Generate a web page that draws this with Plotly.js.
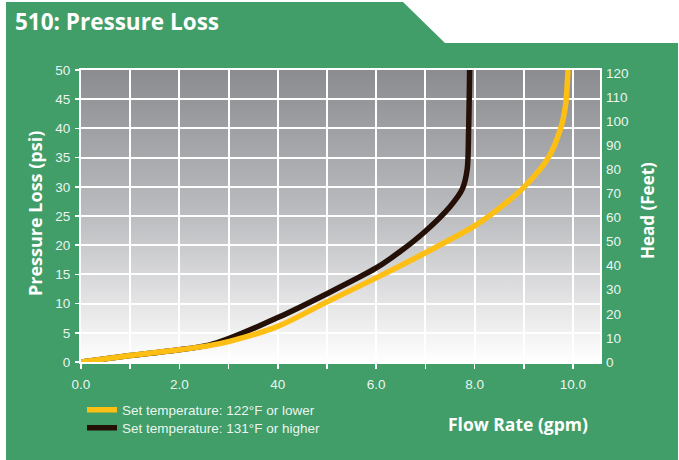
<!DOCTYPE html>
<html>
<head>
<meta charset="utf-8">
<script src="https://cdn.plot.ly/plotly-3.0.1.min.js"></script>
<style>html,body{margin:0;padding:0;background:#fff;}#chart{width:679px;height:460px;}</style>
</head>
<body>
<div id="chart"></div>
<script>
// ---- data ----
var seriesNames = ["Set temperature: 122°F or lower", "Set temperature: 131°F or higher"];
var lowFlow  = [0, 1, 2, 2.6, 3, 4, 5, 6, 7, 8, 8.5, 9, 9.5, 9.75, 9.85, 9.9];
var lowPsi   = [0, 1.1, 2.1, 2.8, 3.5, 6.1, 10.3, 14.4, 18.7, 23.3, 26.3, 29.9, 35.0, 40.0, 44.0, 50.0];
var highFlow = [0, 1, 2, 2.6, 3, 4, 5, 6, 6.5, 7, 7.5, 7.75, 7.85, 7.88, 7.9];
var highPsi  = [0, 1.1, 2.1, 2.9, 4.0, 7.6, 11.7, 16.1, 19.0, 22.4, 26.6, 29.6, 33.0, 40.0, 50.0];
var xTickVals = [0, 1, 2, 3, 4, 5, 6, 7, 8, 9, 10];
var xTickText = ["0.0", "", "2.0", "", "40", "", "6.0", "", "8.0", "", "10.0"];
var psiTicks  = [0, 5, 10, 15, 20, 25, 30, 35, 40, 45, 50];
var feetTicks = [0, 10, 20, 30, 40, 50, 60, 70, 80, 90, 100, 110, 120];

// ---- layout geometry (pixels) ----
var W = 679, H = 460, L = 81, R = 600, T = 70, B = 362;
function px(x) { return (x - L) / (R - L); }
function py(y) { return (B - y) / (B - T); }

var GREEN = "#419e69";
var YELLOW = "#fdbf14";
var DARK = "#241006";
var TICKC = "rgba(255,255,255,0.92)";
var FS = 13.5;

var path = "M" + px(6) + "," + py(2) + " L" + px(403) + "," + py(2) + " L" + px(445) + "," + py(43) +
  " L" + px(678) + "," + py(43) + " L" + px(678) + "," + py(460) + " L" + px(6) + "," + py(460) + " Z";

var svg = '<svg xmlns="http://www.w3.org/2000/svg" width="10" height="100" preserveAspectRatio="none">' +
  '<defs><linearGradient id="g" x1="0" y1="0" x2="0" y2="1">' +
  '<stop offset="0" stop-color="#8b8c90"/><stop offset="0.5" stop-color="#bcbdc0"/>' +
  '<stop offset="0.85" stop-color="#ebebec"/><stop offset="1" stop-color="#ffffff"/>' +
  '</linearGradient></defs><rect width="10" height="100" fill="url(#g)"/></svg>';
var gradURI = "data:image/svg+xml;charset=utf-8," + encodeURIComponent(svg);

var traces = [
  { x: highFlow, y: highPsi, name: seriesNames[1], type: "scatter", mode: "lines", legend: "legend2",
    line: { color: DARK, width: 5.5, shape: "spline", smoothing: 0.8 }, hoverinfo: "skip" },
  { x: lowFlow, y: lowPsi, name: seriesNames[0], type: "scatter", mode: "lines", legend: "legend",
    line: { color: YELLOW, width: 5.5, shape: "spline", smoothing: 0.8 }, hoverinfo: "skip" },
  { x: [null], y: [null], yaxis: "y2", showlegend: false, hoverinfo: "skip", type: "scatter" }
];

function legendAt(yc) {
  return { x: px(82), y: py(yc), xanchor: "left", yanchor: "middle",
    bgcolor: "rgba(0,0,0,0)", borderwidth: 0,
    font: { size: FS, color: TICKC, family: "Liberation Sans, Arial, sans-serif" },
    itemwidth: 30, tracegroupgap: 0 };
}

var xmax = 10.55;
var layout = {
  width: W, height: H,
  margin: { l: L, r: W - R, t: T, b: H - B, pad: 0 },
  paper_bgcolor: "#ffffff",
  plot_bgcolor: "rgba(0,0,0,0)",
  font: { family: "Liberation Sans, Arial, sans-serif", color: TICKC, size: FS },
  showlegend: true,
  legend: legendAt(410),
  legend2: legendAt(428),
  xaxis: { range: [0, xmax], tickmode: "array", tickvals: xTickVals, ticktext: xTickText,
    showgrid: true, gridcolor: "#ffffff", gridwidth: 2, zeroline: false,
    showline: true, linecolor: "#ffffff", linewidth: 2, mirror: true,
    ticks: "outside", ticklen: 5, tickwidth: 1.5, tickcolor: "#ffffff",
    tickfont: { size: FS, color: TICKC }, ticklabelstandoff: 4, fixedrange: true },
  yaxis: { range: [0, 50], tickmode: "array", tickvals: psiTicks,
    showgrid: true, gridcolor: "#ffffff", gridwidth: 2, zeroline: false,
    showline: true, linecolor: "#ffffff", linewidth: 2, mirror: true,
    ticks: "outside", ticklen: 4, tickwidth: 1.5, tickcolor: "#ffffff",
    tickfont: { size: FS, color: TICKC }, ticklabelstandoff: 2, fixedrange: true },
  yaxis2: { overlaying: "y", side: "right", range: [0, 121.2], tickmode: "array", tickvals: feetTicks,
    showgrid: false, zeroline: false, showline: false, ticks: "",
    tickfont: { size: FS, color: TICKC }, ticklabelstandoff: 5, fixedrange: true },
  shapes: [
    { type: "path", xref: "paper", yref: "paper", path: path, fillcolor: GREEN, line: { width: 0 }, layer: "below" }
  ],
  images: [
    { source: gradURI, xref: "x", yref: "y", x: 0, y: 50, sizex: xmax, sizey: 50,
      xanchor: "left", yanchor: "top", sizing: "stretch", layer: "below" }
  ],
  annotations: [
    { text: "<b>510: Pressure Loss</b>", xref: "paper", yref: "paper", x: px(13), y: py(21),
      xanchor: "left", yanchor: "middle", showarrow: false,
      font: { family: "Open Sans, sans-serif", size: 22.5, color: "#ffffff" } },
    { text: "<b>Pressure Loss (psi)</b>", xref: "paper", yref: "paper", x: px(35), y: py(214),
      xanchor: "center", yanchor: "middle", textangle: -90, showarrow: false,
      font: { family: "Open Sans, sans-serif", size: 18, color: "#ffffff" } },
    { text: "<b>Head (Feet)</b>", xref: "paper", yref: "paper", x: px(647), y: py(211),
      xanchor: "center", yanchor: "middle", textangle: -90, showarrow: false,
      font: { family: "Open Sans, sans-serif", size: 17, color: "#ffffff" } },
    { text: "<b>Flow Rate (gpm)</b>", xref: "paper", yref: "paper", x: px(518), y: py(424),
      xanchor: "center", yanchor: "middle", showarrow: false,
      font: { family: "Open Sans, sans-serif", size: 17.5, color: "#ffffff" } }
  ]
};

Plotly.newPlot("chart", traces, layout, { staticPlot: true, displayModeBar: false });
</script>
</body>
</html>
